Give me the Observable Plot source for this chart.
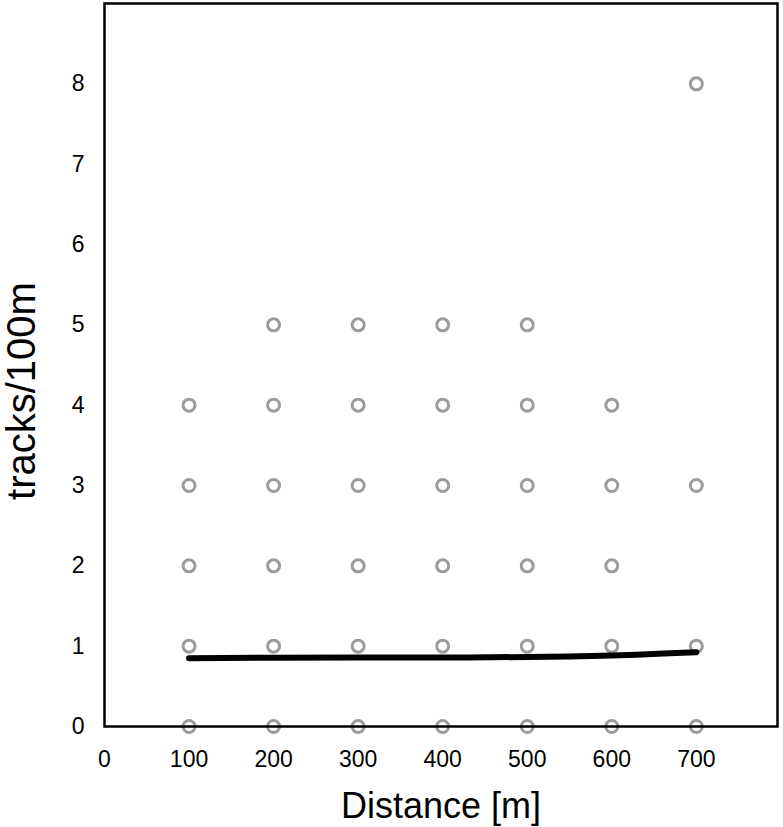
<!DOCTYPE html>
<html>
<head>
<meta charset="utf-8">
<script src="https://cdn.jsdelivr.net/npm/d3@7"></script>
<script src="https://cdn.jsdelivr.net/npm/@observablehq/plot@0.6"></script>
<style>
  html, body { margin: 0; padding: 0; background: #fff; }
</style>
</head>
<body>
<div id="chart"></div>
<script>
// Observed points: distance (m) and tracks/100m
const pointDistance = [
  100,100,100,100,100,
  200,200,200,200,200,200,
  300,300,300,300,300,300,
  400,400,400,400,400,400,
  500,500,500,500,500,500,
  600,600,600,600,600,
  700,700,700,700
];
const pointTracks = [
  0,1,2,3,4,
  0,1,2,3,4,5,
  0,1,2,3,4,5,
  0,1,2,3,4,5,
  0,1,2,3,4,5,
  0,1,2,3,4,
  0,1,3,8
];
// Fitted line
const fitDistance = [100, 200, 300, 400, 500, 600, 700];
const fitTracks = [0.85, 0.857, 0.86, 0.86, 0.865, 0.885, 0.925];

const xTicks = [0, 100, 200, 300, 400, 500, 600, 700];
const yTicks = [0, 1, 2, 3, 4, 5, 6, 7, 8];

const points = pointDistance.map((d, i) => ({distance: d, tracks: pointTracks[i]}));
const fit = fitDistance.map((d, i) => ({distance: d, tracks: fitTracks[i]}));

const font = "Arial, 'Liberation Sans', sans-serif";

const chart = Plot.plot({
  width: 783,
  height: 827,
  marginLeft: 104,
  marginRight: 6,
  marginTop: 3,
  marginBottom: 101,
  style: {fontFamily: font, fontSize: "23px", background: "#fff", color: "black"},
  x: {domain: [0, 796]},
  y: {domain: [0, 9]},
  marks: [
    Plot.axisX({ticks: xTicks, tickSize: 0, tickPadding: 24, fontSize: 23, label: null, fill: "black"}),
    Plot.axisY({ticks: yTicks, tickSize: 0, tickPadding: 20, fontSize: 23, label: null, fill: "black"}),
    Plot.dot(points, {x: "distance", y: "tracks", r: 6, stroke: "#9c9c9c", strokeWidth: 3, fill: "none"}),
    Plot.line(fit, {x: "distance", y: "tracks", stroke: "black", strokeWidth: 6, curve: "monotone-x"}),
    Plot.frame({stroke: "black", strokeWidth: 2.5}),
    Plot.text(["Distance [m]"], {frameAnchor: "bottom", textAnchor: "middle", lineAnchor: "middle", dy: 80, fontSize: 36, fill: "black"}),
    Plot.text(["tracks/100m"], {frameAnchor: "left", textAnchor: "middle", lineAnchor: "middle", dx: -82, dy: 26, rotate: -90, fontSize: 40, fill: "black"})
  ]
});
document.getElementById("chart").appendChild(chart);
</script>
</body>
</html>
